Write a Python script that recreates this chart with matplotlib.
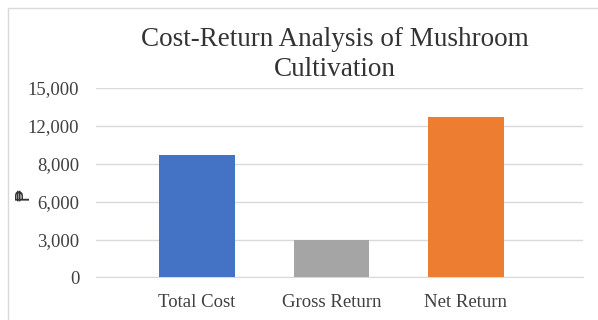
import numpy as np
import matplotlib
matplotlib.use("Agg")
import matplotlib.pyplot as plt
from matplotlib.patches import Rectangle

categories = ["Total Cost", "Gross Return", "Net Return"]
values = [9700, 2970, 12700]
colors = ["#4472c4", "#a5a5a5", "#ed7d31"]
yticks = [0, 3000, 6000, 9000, 12000, 15000]
ytick_labels = ["0", "3,000", "6,000", "8,000", "12,000", "15,000"]

plt.rcParams['font.family'] = ['Liberation Serif', 'DejaVu Sans']

fig = plt.figure(figsize=(5.98, 3.2), dpi=100)
ax = fig.add_axes([0.1605, 0.133, 0.8145, 0.592])

x = np.arange(len(categories))
ax.bar(x, values, width=0.56, color=colors, zorder=3)

ax.set_xlim(-0.75, 2.87)
ax.set_ylim(0, 15000)
ax.set_yticks(yticks)
ax.set_yticklabels(ytick_labels)
ax.set_xticks(x)
ax.set_xticklabels(categories)
ax.grid(axis='y', color='#d9d9d9', linewidth=1, zorder=0)
ax.tick_params(axis='both', length=0, labelsize=13.5, colors='#404040')
ax.tick_params(axis='y', pad=12)
ax.tick_params(axis='x', pad=12)
for s in ['top', 'right', 'left']:
    ax.spines[s].set_visible(False)
ax.spines['bottom'].set_color('#d9d9d9')

fig.text(0.56, 0.83, "Cost-Return Analysis of Mushroom\nCultivation", ha='center', va='center',
         fontsize=19.5, color='#333333', linespacing=1.3)
fig.text(0.04, 0.39, "\u20b1", rotation=90, ha='center', va='center',
         fontsize=14, color='#333333', family=['DejaVu Sans'])

fig.patches.append(Rectangle((8 / 598, -0.01), 1.0, 1 - 8 / 320 + 0.01, transform=fig.transFigure,
                             fill=False, edgecolor='#d9d9d9', linewidth=1))

fig.savefig("out.png", dpi=100)
